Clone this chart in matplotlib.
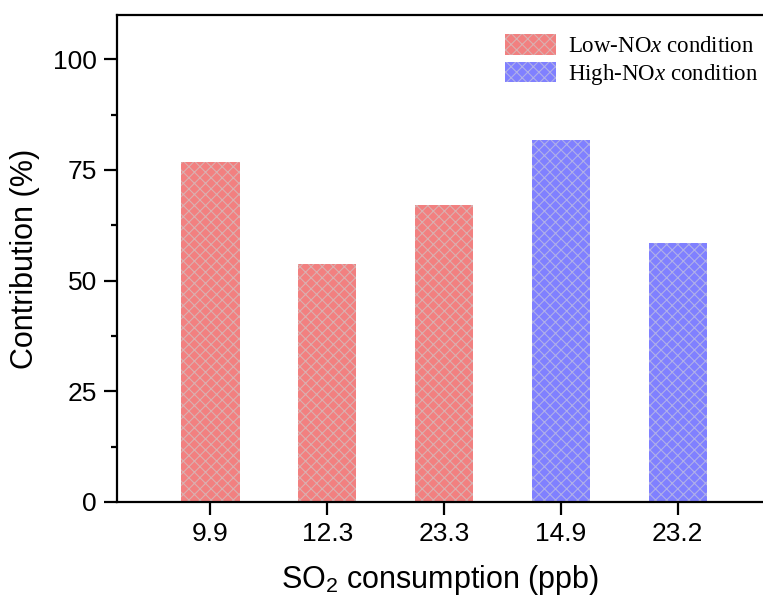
import matplotlib.pyplot as plt
from matplotlib.ticker import MultipleLocator
from matplotlib.legend_handler import HandlerTuple

plt.rcParams['font.family'] = 'Liberation Sans'
plt.rcParams['mathtext.fontset'] = 'custom'
plt.rcParams['mathtext.rm'] = 'Liberation Sans'
plt.rcParams['mathtext.it'] = 'Liberation Serif:italic'
plt.rcParams['hatch.linewidth'] = 0.8

# data
tick_labels = ['9.9', '12.3', '23.3', '14.9', '23.2']
low_idx = [0, 1, 2]
low_vals = [76.7, 53.8, 67.0]
high_idx = [3, 4]
high_vals = [81.7, 58.6]

red = '#F28080'
blue = '#8080FF'

fig = plt.figure(figsize=(7.63, 5.99), dpi=100)
ax = fig.add_axes([0.1533, 0.162, 0.8467, 0.813])

w = 0.5
b1 = ax.bar(low_idx, low_vals, w, color=red, edgecolor='none')
h1 = ax.bar(low_idx, low_vals, w, facecolor='none', edgecolor='#D9B0B0', hatch='xxx', linewidth=0)
b2 = ax.bar(high_idx, high_vals, w, color=blue, edgecolor='none')
h2 = ax.bar(high_idx, high_vals, w, facecolor='none', edgecolor='#B0B0E8', hatch='xxx', linewidth=0)

ax.set_xlim(-0.80, 4.73)
ax.set_ylim(0, 110)
ax.set_xticks(range(len(tick_labels)))
ax.set_xticklabels(tick_labels)
ax.yaxis.set_major_locator(MultipleLocator(25))
ax.yaxis.set_minor_locator(MultipleLocator(12.5))

for s in ['left', 'bottom', 'top']:
    ax.spines[s].set_linewidth(1.6)
ax.spines['right'].set_visible(False)

ax.tick_params(axis='both', which='major', direction='out', length=9.5, width=1.6,
               labelsize=19, pad=5)
ax.tick_params(axis='y', which='minor', direction='out', length=4, width=1.6)
ax.tick_params(axis='x', which='minor', bottom=False)

ax.set_ylabel('Contribution (%)', fontsize=22, labelpad=9)
ax.set_xlabel('SO$_2$ consumption (ppb)', fontsize=22, labelpad=12)

ax.legend([(b1[0], h1[0]), (b2[0], h2[0])],
          ['Low-NO$x$ condition', 'High-NO$x$ condition'],
          handler_map={tuple: HandlerTuple(ndivide=1)},
          loc='upper right', bbox_to_anchor=(758 / 763, 1 - 34 / 599),
          bbox_transform=fig.transFigure, frameon=False,
          prop={'family': 'Liberation Serif', 'size': 16.5},
          handlelength=2.23, handleheight=1.0, labelspacing=0.2,
          handletextpad=0.52, borderaxespad=0, borderpad=0)

fig.savefig('out.png', dpi=100)
